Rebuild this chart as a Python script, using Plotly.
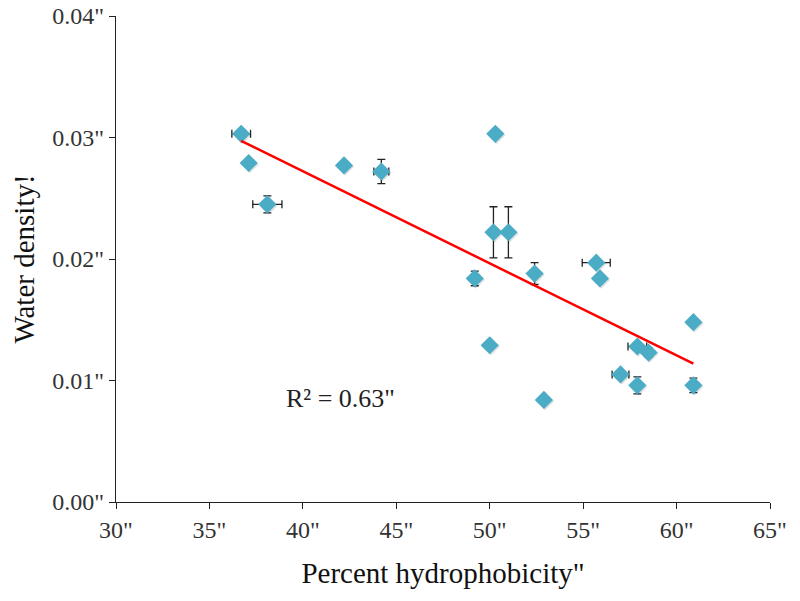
import numpy as np
import plotly.graph_objects as go

# Data
hydrophobicity = [36.7, 37.1, 38.1, 42.2, 44.2, 50.3, 50.2, 51.0, 49.2, 52.4,
                  55.7, 55.9, 50.0, 57.9, 58.5, 57.0, 57.9, 60.9, 60.9, 52.9]
water_density = [0.0303, 0.0279, 0.0245, 0.0277, 0.0272, 0.0303, 0.0222, 0.0222, 0.0184, 0.0188,
                 0.0197, 0.0184, 0.0129, 0.0128, 0.0123, 0.0105, 0.0096, 0.0096, 0.0148, 0.0084]
x_err = [0.5, 0.0, 0.78, 0.0, 0.4, 0.0, 0.0, 0.0, 0.0, 0.0,
         0.75, 0.0, 0.0, 0.5, 0.0, 0.45, 0.0, 0.0, 0.0, 0.0]
y_err = [0.0, 0.0, 0.0007, 0.0, 0.001, 0.0, 0.0021, 0.0021, 0.0006, 0.0009,
         0.0, 0.0, 0.0, 0.0, 0.0004, 0.0, 0.0007, 0.0006, 0.0, 0.0]

x_ticks = [30, 35, 40, 45, 50, 55, 60, 65]
x_tick_text = ['30"', '35"', '40"', '45"', '50"', '55"', '60"', '65"']
y_ticks = [0.00, 0.01, 0.02, 0.03, 0.04]
y_tick_text = ['0.00"', '0.01"', '0.02"', '0.03"', '0.04"']
r2_text = 'R² = 0.63"'

x = np.array(hydrophobicity)
y = np.array(water_density)
slope, intercept = np.polyfit(x, y, 1)
fit_x = np.array([x.min(), x.max()])
fit_y = slope * fit_x + intercept

fig = go.Figure()

# soft shadow behind markers
fig.add_trace(go.Scatter(
    x=x + 0.06, y=y - 0.0001, mode="markers",
    marker=dict(symbol="diamond", size=14, color="rgba(80,80,80,0.18)"),
    hoverinfo="skip", showlegend=False))

fig.add_trace(go.Scatter(
    x=hydrophobicity, y=water_density, mode="markers",
    marker=dict(symbol="diamond", size=14, color="#4bacc6",
                line=dict(width=0)),
    error_x=dict(type="data", array=x_err, visible=True, color="#222222",
                 thickness=1.3, width=4),
    error_y=dict(type="data", array=y_err, visible=True, color="#222222",
                 thickness=1.3, width=4),
    showlegend=False))

fig.add_trace(go.Scatter(
    x=fit_x, y=fit_y, mode="lines",
    line=dict(color="#ff0000", width=2.5), showlegend=False))

fig.add_annotation(x=0.344, y=0.212, xref="paper", yref="paper",
                   xanchor="center", yanchor="middle",
                   text=r2_text, showarrow=False,
                   font=dict(family="Liberation Serif", size=26, color="#222222"))

axis_common = dict(showline=True, linecolor="#222222", linewidth=1.3,
                   ticks="outside", ticklen=6, tickcolor="#222222", tickwidth=1.3,
                   showgrid=False, zeroline=False, automargin=False,
                   ticklabeloverflow="allow",
                   tickfont=dict(family="Liberation Serif", size=24, color="#333333"))

fig.update_xaxes(range=[30, 65], tickvals=x_ticks, ticktext=x_tick_text,
                 title=dict(text='Percent hydrophobicity"',
                            font=dict(family="Liberation Serif", size=29, color="#111111"),
                            standoff=20),
                 **axis_common)
fig.update_yaxes(range=[0, 0.04], tickvals=y_ticks, ticktext=y_tick_text,
                 title=dict(text="Water density!",
                            font=dict(family="Liberation Serif", size=29, color="#111111"),
                            standoff=12),
                 **axis_common)

fig.update_layout(width=800, height=601, plot_bgcolor="white", paper_bgcolor="white",
                  margin=dict(l=108, r=38, t=8, b=107))

fig.write_html("out.html")
